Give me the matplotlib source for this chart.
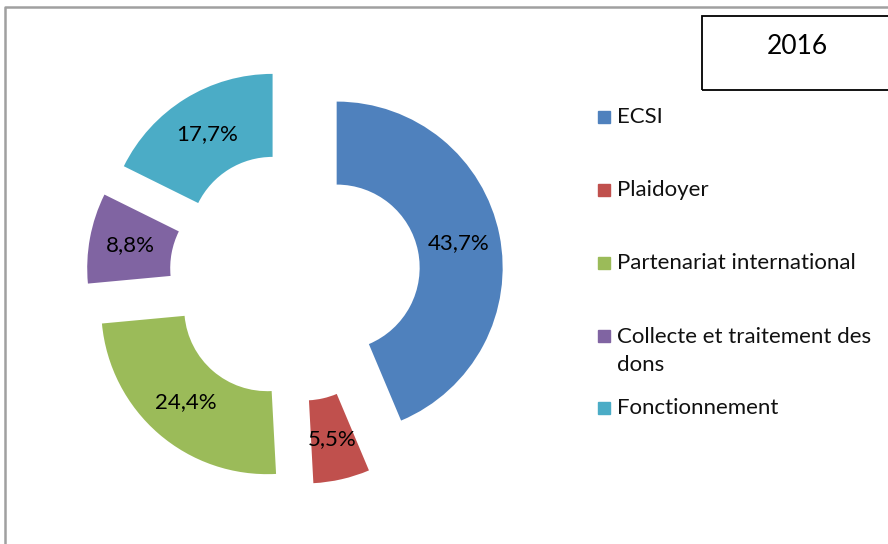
"""Donut chart 2016 - répartition des dépenses"""
import matplotlib
matplotlib.use("Agg")
from matplotlib import pyplot as plt
from matplotlib.patches import Rectangle

categories = ["ECSI", "Plaidoyer", "Partenariat international",
              "Collecte et traitement des\ndons", "Fonctionnement"]
values = [43.7, 5.5, 24.4, 8.8, 17.7]
colors = ["#4F81BD", "#C0504D", "#9BBB59", "#8064A2", "#4BACC6"]
title = "2016"

W, H = 888, 544


def main():
    """Draw the chart"""
    plt.rcParams['font.family'] = ['Lato', 'DejaVu Sans']
    fig = plt.figure(figsize=(W / 100, H / 100), dpi=100)
    ax = fig.add_axes([0, 0, 1, 1])

    # explode is in data units here (pixels)
    _, _, autotexts = ax.pie(
        values, colors=colors, startangle=90, counterclock=False,
        center=(295, H - 276), radius=166, explode=[42.5] * len(values),
        wedgeprops=dict(width=83, edgecolor='none'),
        autopct='%1.1f', pctdistance=0.75, frame=True,
        textprops=dict(fontsize=16, color='black'))
    for txt, val in zip(autotexts, values):
        txt.set_text(f"{val:.1f}%".replace('.', ','))

    # legend drawn by hand (Excel style: marker aligned with first line)
    leg_y = [117, 190, 263, 336, 408]
    for cat, col, y in zip(categories, colors, leg_y):
        ax.add_patch(Rectangle((598, H - y - 6), 12, 12, color=col))
        if '\n' in cat:
            ax.text(617, H - y + 9, cat, fontsize=16, va='top', ha='left',
                    linespacing=1.5, color='#111111')
        else:
            ax.text(617, H - y, cat, fontsize=16, va='center', ha='left',
                    color='#111111')

    # title box
    ax.add_patch(Rectangle((702, H - 90), 200, 74, fill=False,
                           edgecolor='black', linewidth=1.3, clip_on=False))
    ax.text(797, H - 47, title, fontsize=19, ha='center', va='center')

    # outer chart frame (grey)
    ax.plot([5, 5, W + 5], [0, H - 7, H - 7], color='#A0A0A0', linewidth=1.8)

    ax.set_xlim(0, W)
    ax.set_ylim(0, H)
    ax.axis('off')
    fig.savefig("out.png", dpi=100)


if __name__ == '__main__':
    main()
